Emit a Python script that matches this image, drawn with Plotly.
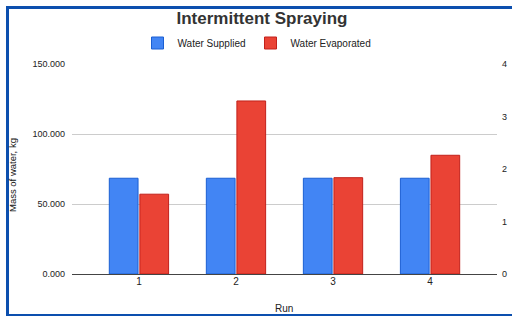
import plotly.graph_objects as go

runs = ["1", "2", "3", "4"]
water_supplied = [68.4, 68.4, 68.4, 68.4]
water_evaporated = [57.0, 123.6, 68.8, 84.8]
left_ticks = [0, 50, 100, 150]
right_ticks = [0, 1, 2, 3, 4]

W, H = 512, 316
ML, MR, MT, MB = 72, 15, 64, 42
PW, PH = W - ML - MR, H - MT - MB

def px(x):
    return (x - ML) / PW

def py(y):
    return (H - MB - y) / PH

FONT = "Liberation Sans, Arial, sans-serif"
BORDER = "#0c4fae"

fig = go.Figure()
fig.add_trace(go.Bar(
    x=runs, y=water_supplied, name="Water Supplied",
    marker=dict(color="#4285F4", line=dict(color="#1b5fd3", width=1)),
))
fig.add_trace(go.Bar(
    x=runs, y=water_evaporated, name="Water Evaporated",
    marker=dict(color="#EA4335", line=dict(color="#c2211b", width=1)),
))
fig.add_trace(go.Scatter(
    x=runs, y=[None] * len(runs), yaxis="y2", showlegend=False,
    hoverinfo="skip", mode="lines",
))

fig.update_layout(
    width=W, height=H,
    margin=dict(l=ML, r=MR, t=MT, b=MB, pad=0, autoexpand=False),
    paper_bgcolor="white", plot_bgcolor="white",
    font=dict(family=FONT, size=10, color="#222"),
    barmode="group", bargap=0.37, bargroupgap=0.06,
    title=dict(text="<b>Intermittent Spraying</b>", x=262 / W, xanchor="center",
               y=1 - 18 / H, yanchor="middle",
               font=dict(family=FONT, size=17, color="#333")),
    legend=dict(orientation="h", xref="paper", yref="paper",
                x=px(257), xanchor="center", y=py(43), yanchor="middle",
                font=dict(size=10, color="#222"), itemwidth=30,
                bgcolor="rgba(0,0,0,0)"),
    xaxis=dict(type="category", range=[-0.69, 3.69], showgrid=False,
               showline=False, ticks="", tickfont=dict(size=10, color="#222"),
               automargin=False),
    yaxis=dict(range=[0, 150], tickvals=left_ticks, tickformat=".3f",
               showgrid=True, gridcolor="#cccccc", gridwidth=1,
               zeroline=True, zerolinecolor="#444", zerolinewidth=1,
               showline=False, ticks="", ticklabelstandoff=6, automargin=False,
               tickfont=dict(size=9, color="#222")),
    yaxis2=dict(range=[0, 4], tickvals=right_ticks, overlaying="y", side="right",
                showgrid=False, zeroline=False, showline=False, ticks="",
                ticklabelstandoff=4, automargin=False,
                tickfont=dict(size=9, color="#222")),
    annotations=[
        dict(text="Mass of water, kg", textangle=-90, xref="paper", yref="paper",
             x=px(12), y=py(175), xanchor="center", yanchor="middle",
             showarrow=False, font=dict(size=9.5, color="#111")),
        dict(text="Run", xref="paper", yref="paper",
             x=px(284), y=py(308), xanchor="center", yanchor="middle",
             showarrow=False, font=dict(size=10, color="#222")),
    ],
    shapes=[
        dict(type="line", xref="paper", yref="paper", x0=px(7.5), x1=px(7.5),
             y0=py(6), y1=py(316), line=dict(color=BORDER, width=3)),
        dict(type="line", xref="paper", yref="paper", x0=px(6), x1=px(512),
             y0=py(7.5), y1=py(7.5), line=dict(color=BORDER, width=3)),
        dict(type="line", xref="paper", yref="paper", x0=px(6), x1=px(512),
             y0=py(315), y1=py(315), line=dict(color=BORDER, width=2)),
    ],
)

fig.write_html("out.html", config={"displayModeBar": False},
               post_script="document.body.style.margin='0';")
